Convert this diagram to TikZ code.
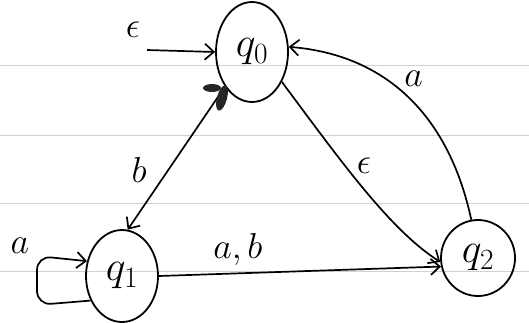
\RequirePackage{fix-cm}
\documentclass[tikz,border=0pt]{standalone}
\usetikzlibrary{arrows.meta,shapes.geometric}
\begin{document}
\begin{tikzpicture}[x=1pt,y=-1pt,
  paper/.style={draw=black!18,line width=0.8pt},
  st/.style={draw,ellipse,line width=1.8pt,inner sep=0pt},
  arr/.style={line width=1.7pt,-{Straight Barb[length=9pt,width=16pt,line width=1.7pt]}},
  lbl/.style={font=\fontsize{36}{40}\selectfont,inner sep=1pt},
  stl/.style={font=\fontsize{42}{46}\selectfont}]
\useasboundingbox (0,0) rectangle (529,322);
% lined paper
\foreach \yy in {65,135,203,271} \draw[paper] (0,\yy) -- (529,\yy);
% states
\node[st,stl,minimum width=72pt,minimum height=100pt] (q0) at (252,52) {$q_0$};
\node[st,stl,minimum width=72pt,minimum height=92pt] (q1) at (122,276) {$q_1$};
\node[st,stl,minimum width=74pt,minimum height=76pt] (q2) at (478,258) {$q_2$};
% start
\coordinate (s) at (147,50);
\node[lbl] (e0) at (133,30) {$\epsilon$};
\draw[arr] (s) -- (q0.west);
% q0 -> q1 : b
\draw[arr] (q0.232) -- node[lbl,left=20pt,pos=0.58] (lb) {$b$} (q1.83);
% scribble (crossed out tip)
\fill[black!85,rotate around={-15:(222,98)}] (222,98) ellipse [x radius=5pt,y radius=13pt];
\fill[black!85] (212,88) ellipse [x radius=9pt,y radius=4pt];
% q0 -> q2 : epsilon
\draw[arr] (q0.315) .. controls (340,160) and (390,230) .. node[lbl,pos=0.38,right=10pt] (le) {$\epsilon$} (q2.186);
% q2 -> q0 : a
\draw[arr] (q2.100) .. controls (450,120) and (390,55) .. node[lbl,pos=0.55,above right=2pt] (la) {$a$} (q0.8);
% q1 -> q2 : a,b
\draw[arr] (q1.east) -- node[lbl,above=6pt,pos=0.28] (lab) {$a,b$} (q2.193);
% self loop on q1 : a
\draw[arr,rounded corners=14pt] (q1.218) -- (37,305) -- (37,256) -- (q1.157);
\node[lbl] (lloop) at (20,246) {$a$};
\end{tikzpicture}
\end{document}
